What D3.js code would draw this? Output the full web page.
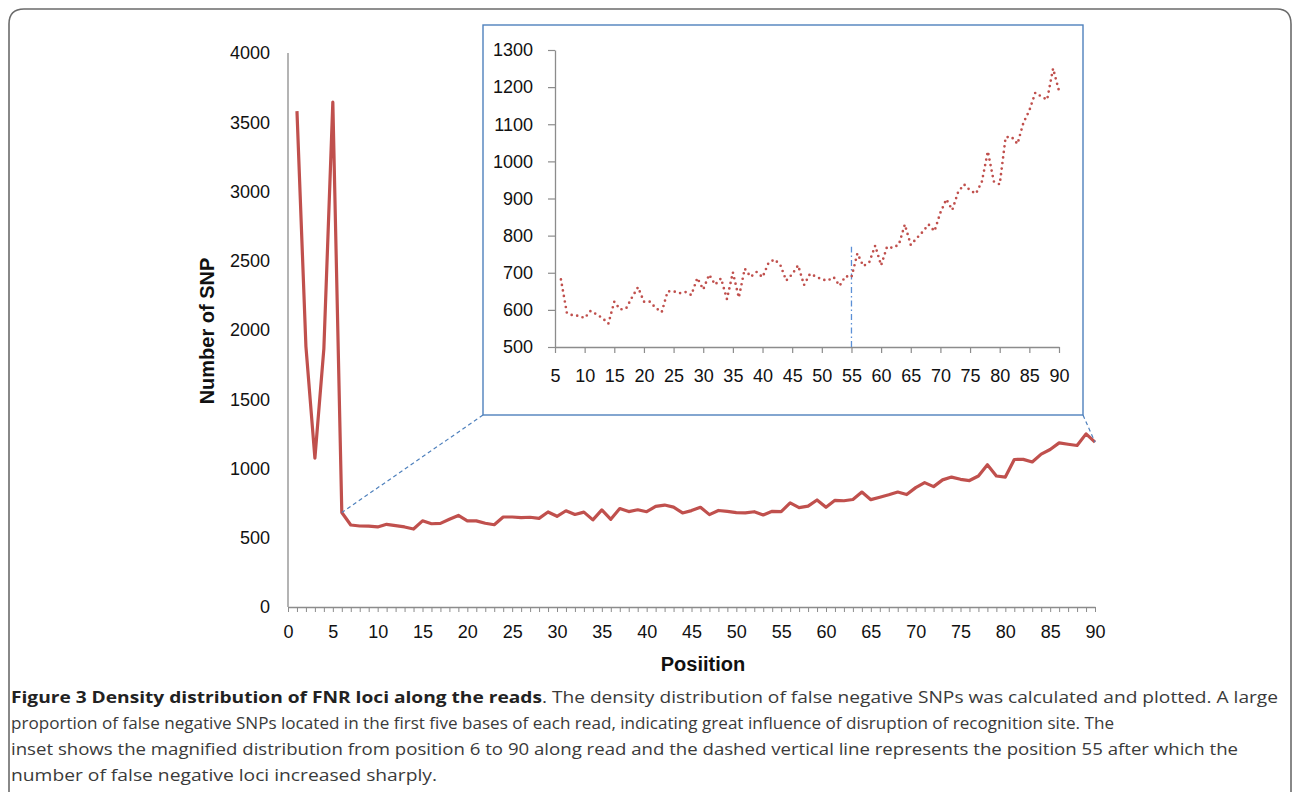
<!DOCTYPE html>
<html><head><meta charset="utf-8">
<script src="https://cdn.jsdelivr.net/npm/d3@7"></script>
<style>
html,body{margin:0;padding:0;background:#fff;}
svg{display:block;}
</style></head>
<body>
<svg id="chart" width="1293" height="792"></svg>
<script>
// ---- data ----
const snpCounts = [3580,1880,1075,1865,3645,682,592,585,584,578,597,588,578,563,622,601,604,634,661,622,
622,605,594,650,650,645,648,640,686,655,695,668,685,629,701,633,711,689,702,688,
726,736,721,679,696,720,667,697,690,682,679,688,665,691,688,752,718,728,773,720,
770,767,776,830,775,793,810,830,812,862,898,869,918,938,922,913,946,1027,946,938,
1065,1066,1047,1104,1137,1185,1175,1166,1250,1190];
const mainYTicks = [0,500,1000,1500,2000,2500,3000,3500,4000];
const mainXLabelStep = 5;
const insetYTicks = [500,600,700,800,900,1000,1100,1200,1300];
const insetXTicks = [5,10,15,20,25,30,35,40,45,50,55,60,65,70,75,80,85,90];
const insetStart = 6;        // inset shows positions 6..90
const markerPos = 55;        // vertical dash-dot marker
const markerTop = 770;
const xTitle = "Posiition";
const yTitle = "Number of SNP";
const captionLines = [
  [["Figure 3 Density distribution of FNR loci along the reads", true], [". The density distribution of false negative SNPs was calculated and plotted. A large", false]],
  [["proportion of false negative SNPs located in the first five bases of each read, indicating great influence of disruption of recognition site. The", false]],
  [["inset shows the magnified distribution from position 6 to 90 along read and the dashed vertical line represents the position 55 after which the", false]],
  [["number of false negative loci increased sharply.", false]]
];
const captionWidths = [1267, 1103, 1227, 426];

const data = snpCounts.map((v,i)=>({pos:i+1, v}));
const insetData = data.filter(d=>d.pos>=insetStart);

const svg = d3.select("#chart");
const RED = "#c0504d", BLUE = "#4f81bd", AXIS = "#8c8c8c";
const tickFont = "Liberation Sans, Arial, sans-serif";
const fmt = d3.format("d");

// frame
svg.append("path")
  .attr("d","M9,792 L9,24 Q9,9 24,9 L1277,9 Q1291,9 1291,24 L1291,792")
  .attr("fill","none").attr("stroke","#6b6b6b").attr("stroke-width",1.6);

// ---- main chart ----
const x = d3.scaleLinear().domain([0,90]).range([288,1095]);
const y = d3.scaleLinear().domain([0,4000]).range([607,53]);

const gx = svg.append("g").attr("transform",`translate(0,${y(0)})`)
  .call(d3.axisBottom(x).tickValues(d3.range(0,91)).tickSize(5).tickSizeOuter(0)
    .tickFormat(d=> d % mainXLabelStep===0 ? fmt(d) : ""));
const gy = svg.append("g").attr("transform",`translate(${x(0)},0)`)
  .call(d3.axisLeft(y).tickValues(mainYTicks).tickSize(0).tickSizeOuter(0).tickFormat(fmt));
[gx,gy].forEach(g=>{
  g.attr("font-family",tickFont);
  g.select(".domain").attr("stroke",AXIS).attr("stroke-width",1.3);
  g.selectAll(".tick line").attr("stroke",AXIS).attr("stroke-width",1);
  g.selectAll("text").style("font-family",tickFont).attr("font-size",18).attr("fill","#111");
});
gy.select(".domain").attr("d",`M0,${y(0)}V${y(4000)}`);
gx.selectAll("text").attr("y",31).attr("dy",0);
gy.selectAll("text").attr("x",-18);

svg.append("path").datum(data)
  .attr("d", d3.line().x(d=>x(d.pos)).y(d=>y(d.v)))
  .attr("fill","none").attr("stroke",RED).attr("stroke-width",3.2)
  .attr("stroke-linejoin","round");

svg.append("text").text(xTitle).attr("x",703).attr("y",671)
  .attr("text-anchor","middle").style("font-family",tickFont).attr("font-weight","bold")
  .attr("font-size",20).attr("fill","#111");
svg.append("text").text(yTitle)
  .attr("transform","translate(214,331) rotate(-90)")
  .attr("text-anchor","middle").style("font-family",tickFont).attr("font-weight","bold")
  .attr("font-size",20).attr("fill","#111");

// ---- inset ----
const box = {x0:483, y0:25, x1:1083, y1:415};
const ix = d3.scaleLinear().domain([5,90]).range([555,1059]);
const iy = d3.scaleLinear().domain([500,1300]).range([347,50]);

svg.append("rect").attr("x",box.x0).attr("y",box.y0)
  .attr("width",box.x1-box.x0).attr("height",box.y1-box.y0)
  .attr("fill","#fff").attr("stroke",BLUE).attr("stroke-width",1.4);

// connectors
const first = insetData[0], last = insetData[insetData.length-1];
svg.append("line").attr("x1",box.x0).attr("y1",box.y1).attr("x2",x(first.pos)).attr("y2",y(first.v))
  .attr("stroke",BLUE).attr("stroke-width",1.2).attr("stroke-dasharray","4,3");
svg.append("line").attr("x1",box.x1).attr("y1",box.y1).attr("x2",x(last.pos)).attr("y2",y(last.v))
  .attr("stroke",BLUE).attr("stroke-width",1.2).attr("stroke-dasharray","4,3");

const igx = svg.append("g").attr("transform",`translate(0,${iy(500)})`)
  .call(d3.axisBottom(ix).tickValues(insetXTicks).tickSize(6).tickSizeOuter(0).tickFormat(fmt));
const igy = svg.append("g").attr("transform",`translate(${ix(5)},0)`)
  .call(d3.axisLeft(iy).tickValues(insetYTicks).tickSize(7).tickSizeOuter(0).tickFormat(fmt));
[igx,igy].forEach(g=>{
  g.attr("font-family",tickFont);
  g.select(".domain").attr("stroke",AXIS).attr("stroke-width",1.3);
  g.selectAll(".tick line").attr("stroke",AXIS).attr("stroke-width",1.2);
  g.selectAll("text").style("font-family",tickFont).attr("font-size",18).attr("fill","#111");
});
igx.selectAll("text").attr("y",35).attr("dy",0);
igy.selectAll("text").attr("x",-22);

svg.append("line").attr("x1",ix(markerPos)).attr("x2",ix(markerPos))
  .attr("y1",iy(500)).attr("y2",iy(markerTop))
  .attr("stroke","#5b8fd6").attr("stroke-width",1.3).attr("stroke-dasharray","6,3,1.5,3");

svg.append("path").datum(insetData)
  .attr("d", d3.line().x(d=>ix(d.pos)).y(d=>iy(d.v)))
  .attr("fill","none").attr("stroke",RED).attr("stroke-width",2.7)
  .attr("stroke-linecap","round").attr("stroke-dasharray","0,5.6");

// ---- caption ----
const capY = [703,729,755,781];
captionLines.forEach((line,i)=>{
  const t = svg.append("text").attr("x",11).attr("y",capY[i])
    .style("font-family","Open Sans, Noto Sans, sans-serif").attr("font-size",16.5)
    .attr("fill","#3a3a3a");
  line.forEach(([s,b])=>{
    t.append("tspan").text(s).attr("font-weight", b?"bold":"normal").attr("fill", b?"#222":"#3a3a3a");
  });
  t.attr("textLength",captionWidths[i]).attr("lengthAdjust","spacingAndGlyphs");
});
</script>
</body></html>
